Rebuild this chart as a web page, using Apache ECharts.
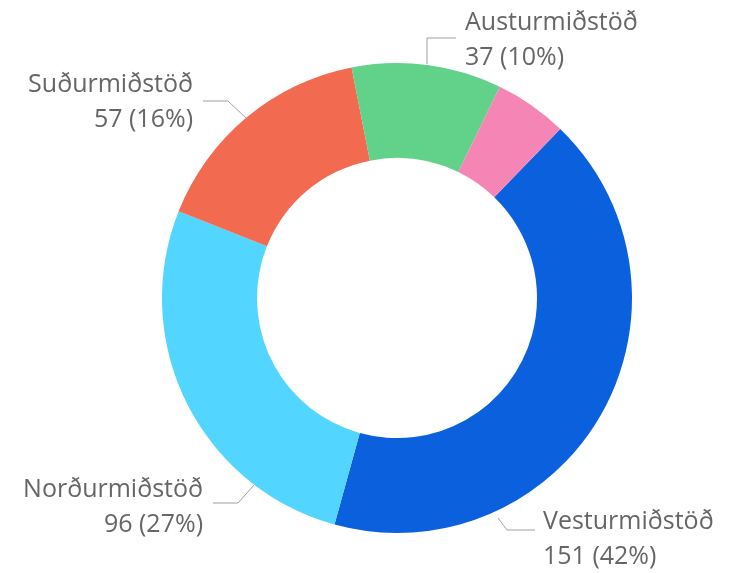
<!DOCTYPE html>
<html>
<head>
<meta charset="utf-8">
<script src="https://cdn.jsdelivr.net/npm/echarts@6/dist/echarts.min.js"></script>
<style>
  html, body { margin: 0; padding: 0; background: #fff; }
  #chart { width: 729px; height: 573px; }
</style>
</head>
<body>
<div id="chart"></div>
<script>
// gögn
const stations = ['Vesturmiðstöð', 'Norðurmiðstöð', 'Suðurmiðstöð', 'Austurmiðstöð', 'Annað'];
const counts = [151, 96, 57, 37, 18];
const colors = ['#0b60de', '#52d5ff', '#f26a4f', '#62d18a', '#f585b5'];

// staðsetning merkja (eins og í Power BI)
const labelSpots = {
  0: { x: 543, y: 539, align: 'left',  line: [[498, 518], [507, 530], [535, 530]] },
  1: { x: 203, y: 507, align: 'right', line: [[254, 485], [238, 503], [213, 503]] },
  2: { x: 193, y: 102, align: 'right', line: [[246, 118], [228, 101], [203, 101]] },
  3: { x: 465, y: 40,  align: 'left',  line: [[427, 64], [427, 38], [456, 38]] }
};

const chart = echarts.init(document.getElementById('chart'));
chart.setOption({
  animation: false,
  series: [{
    type: 'pie',
    center: [397, 298],
    radius: [140, 235],
    startAngle: 46,
    percentPrecision: 0,
    avoidLabelOverlap: false,
    label: {
      show: true,
      position: 'outside',
      formatter: '{b}\n{c} ({d}%)',
      color: '#666',
      fontFamily: 'Open Sans',
      fontSize: 25,
      lineHeight: 35
    },
    labelLine: {
      show: true,
      lineStyle: { color: '#a0a0a0', width: 1 }
    },
    labelLayout: function (p) {
      const s = labelSpots[p.dataIndex];
      if (!s) return {};
      return { x: s.x, y: s.y, align: s.align, verticalAlign: 'middle', labelLinePoints: s.line };
    },
    data: stations.map((n, i) => ({
      name: n,
      value: counts[i],
      itemStyle: { color: colors[i] },
      label: { show: i < 4 },
      labelLine: { show: i < 4 }
    }))
  }]
});
</script>
</body>
</html>
